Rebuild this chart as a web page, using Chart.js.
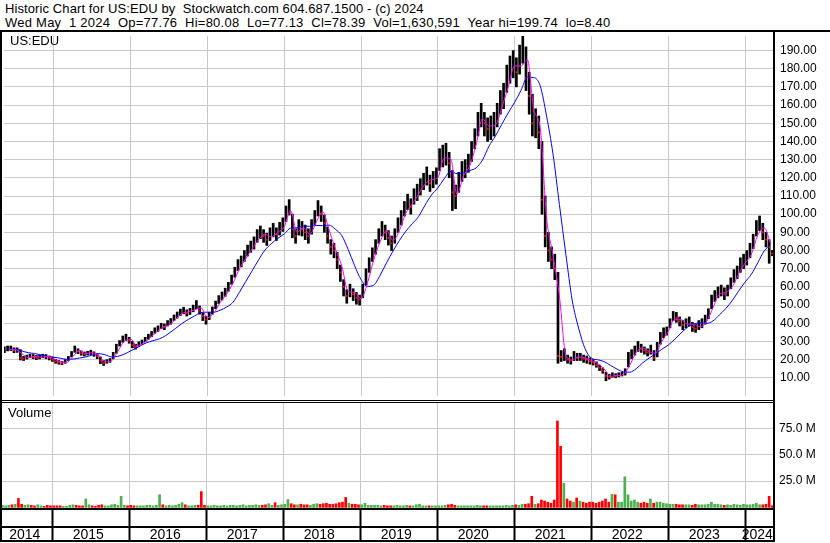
<!DOCTYPE html>
<html><head><meta charset="utf-8">
<script src="https://cdn.jsdelivr.net/npm/chart.js@4.4.1/dist/chart.umd.min.js"></script>
<style>
html,body{margin:0;padding:0;background:#fff;}
body{width:830px;height:543px;position:relative;overflow:hidden;font-family:"Liberation Sans",Arial,sans-serif;}
.t{position:absolute;font-size:13px;white-space:pre;color:#000;line-height:14px;}
.ln{position:absolute;background:#000;}
canvas{position:absolute;left:0;}
</style></head><body>
<canvas id="cp" width="830" height="368" style="top:32px"></canvas>
<canvas id="cv" width="830" height="143" style="top:400px"></canvas>
<div class="t" style="left:5px;top:1.5px;letter-spacing:0.1px">Historic Chart for US:EDU by  Stockwatch.com 604.687.1500 - (c) 2024</div>
<div class="t" style="left:5px;top:15.5px;letter-spacing:0.24px">Wed May  1 2024  Op=77.76  Hi=80.08  Lo=77.13  Cl=78.39  Vol=1,630,591  Year hi=199.74  lo=8.40</div>
<div class="t" style="left:10px;top:34px">US:EDU</div>
<div class="t" style="left:8px;top:406px">Volume</div>
<div class="ln" style="left:0;top:30px;width:830px;height:2px"></div>
<div class="ln" style="left:0;top:30px;width:2px;height:512px"></div>
<div class="ln" style="left:773px;top:30px;width:2px;height:512px"></div>
<div class="ln" style="left:0;top:400px;width:775px;height:1px"></div>
<div class="ln" style="left:0;top:402px;width:775px;height:1px"></div>
<div class="ln" style="left:0;top:508px;width:775px;height:2px"></div>
<div class="ln" style="left:0;top:526px;width:775px;height:2px"></div>
<div class="ln" style="left:0;top:540px;width:775px;height:2px"></div>
<script>
// ---- data (half-month buckets starting early May 2014) ----
const startDate = 2014.354;
const step = 1 / 24;
const closes = [
25.0,26.0,26.0,25.0,25.5,21.0,20.5,21.5,22.0,21.5,21.0,21.5,22.0,21.5,21.0,20.0,
19.0,18.5,18.0,19.0,20.5,23.0,25.5,24.5,23.5,23.0,23.5,24.0,23.0,22.0,19.5,18.0,19.0,19.5,22.0,27.0,29.0,31.0,32.0,30.5,
28.0,27.0,28.5,29.5,31.0,32.5,34.0,36.0,37.0,38.5,38.0,40.0,41.0,43.0,44.5,46.0,47.0,45.5,46.5,48.0,50.0,47.0,44.0,42.0,
44,47,50,53,55,57,60,64,68,72,74,77,80,82,84,88,90,88,86,89,91,89,92,94,
100,104,92,88,93,92,90,88,93,98,103,100,95,88,82,80,75,68,60,55,58,56,54,53,
58,66,72,78,82,88,92,90,87,84,88,94,98,103,107,104,110,112,115,118,121,117,119,121,
130,132,133,128,112,110,118,124,125,128,135,142,150,155,150,147,148,150,155,162,165,175,180,183,
178,185,195,175,165,150,150,145,108,88,80,75,70,22,21.5,23,20,19.5,22,21,21.5,20.5,20,19,
18.5,17,15.5,14,11,10.5,11.5,11,11.5,12,13,21,23,25,27,26,25,24,26,21,27,33,35,36,
40,44,43,41,39,40,41,38,37,39,40,42,45,52,55,57,58,56,58,62,66,68,72,74,
76,80,85,92,95,90,86,82,78.39];
const highs = [
27.0,27.5,27.5,26.5,26.5,25.5,21.8,22.5,23.0,22.8,22.3,22.5,23.0,22.8,22.0,21.5,
20.2,19.5,19.0,20.0,21.8,24.5,27.5,26.0,24.8,24.2,24.6,25.2,24.3,23.3,21.5,19.5,20.0,20.6,24.0,28.5,30.5,33.0,34.0,32.3,
30.0,28.5,29.8,30.8,32.3,34.0,35.5,37.5,38.6,40.0,39.6,41.5,42.6,44.6,46.2,47.8,48.8,47.4,48.2,50.0,52.5,49.5,46.0,43.8,
46.0,49.0,52.2,55.2,57.2,59.3,62.5,66.5,70.8,75.0,77.0,80.0,83.0,85.2,87.5,91.5,93.5,91.5,89.5,92.5,95.0,92.5,95.5,98.0,
104.5,108.0,100.0,92.0,97.0,96.0,94.0,92.0,97.0,102.0,107.5,104.5,99.5,93.0,86.0,84.0,79.0,72.0,64.0,58.5,61.5,59.0,57.0,55.5,
61.5,70.0,76.0,81.5,86.0,92.0,96.0,94.0,91.0,88.0,92.0,98.0,102.0,107.0,111.0,108.5,114.0,116.5,119.5,122.5,126.0,121.5,123.5,125.5,
136,138,139,134,124,116,123,129,130,133,140,147,156,161,156,153,154,156,161,168,172,182,187,190,
186,193,199.74,192,178,166,158,154,140,110,90,82,78,68,25,26,22.5,21.5,24.5,23.5,23.5,22.5,22,21,
20,18.8,17,15.5,13,12,12.8,12.3,12.8,13,15,24,25.5,27.5,30,28.5,27,26,28,25,29.5,35,37.5,38,
42.5,46.5,46,43.5,41.5,42.5,43.5,40.5,39.5,41.5,42.5,44.5,48,55.5,58,60,61,59.5,61,65,69.5,71.5,76,78,
80,84,89,96.5,99,95,90,86,80.08];
const lows = [
23.8,24.8,25.0,23.8,24.0,19.8,19.5,20.3,21.0,20.5,20.0,20.4,21.0,20.5,19.8,19.0,
18.0,17.5,17.2,18.0,19.5,21.5,24.0,23.3,22.4,22.0,22.5,22.8,21.8,20.5,17.8,16.8,18.0,18.5,20.5,23.5,27.5,29.5,30.5,29.0,
26.5,25.8,27.3,28.3,29.8,31.2,32.6,34.5,35.5,37.0,36.5,38.5,39.5,41.5,42.8,44.3,45.2,44.0,44.8,46.3,48.0,45.0,41.5,39.5,
42.0,45.0,48.0,50.8,52.8,54.8,57.6,61.5,65.3,69.0,71.0,74.0,77.0,79.0,80.8,84.5,86.5,84.5,82.8,85.5,87.5,85.5,88.5,90.5,
96.0,99.5,87.0,84.0,88.5,88.0,86.0,84.0,89.0,94.0,99.0,96.0,90.0,84.0,78.0,76.0,70.0,63.0,55.0,51.0,54.5,52.5,50.5,50.0,
54.0,61.0,68.0,74.0,78.0,84.0,88.0,86.0,83.0,80.0,84.0,90.0,94.0,99.0,102.5,100.0,105.5,107.5,110.5,113.5,116.0,112.5,114.5,116.5,
124,126,127,120,102,103,112,118,120,123,129,136,143,148,143,140,141,143,148,155,158,167,172,175,
170,177,183,168,155,143,142,136,100,82,74,70,64,18,19,19.5,18,17.5,19.5,19.5,19.5,18.5,18,17.5,
17,15.8,14,12.5,8.4,9.3,10.3,10,10.5,11,11.5,16,20.5,22.5,24.5,24,23,22,23,19.5,21.5,28.5,32,33.5,
37.5,41.5,40.5,38.5,36.5,37.5,38.5,35.5,35,36.5,37.5,39.5,42.5,48,52,54,55,53,55,59,62.5,64.5,68,70,
72,76,81,88,91,86,82,73,77.13];
const volumes = [
2,1.5,2,2.5,3,8.5,3,2,2.5,2,1.5,2.5,1.5,1,2,1.5,
1.5,1.5,1.5,1,1,2,2.5,2,1.5,1.5,8,2.5,1.5,1,2,2.5,1.5,1.5,2.5,3,2,10.5,2,1.5,
2,1.5,1.5,1.5,1.5,2,2,1.5,2,12,2.5,1.5,2,1.5,2,3,4.5,2.5,1.5,1.5,2,2,15,2,
1.5,1.5,2,1.5,1.5,2,1.5,2,2,1.5,2,2.5,1.5,2,2,2.5,2,2,2.5,3.5,2,4.5,2,2.5,
3,7.5,3.5,2.5,2.5,3,2.5,2.5,2,3,3.5,3,3.5,4,3,3,3.5,4.5,5,9.5,4,3,3,2.5,
2.5,4,2,2,2,2,1.5,2,1.5,1.5,1.5,2,1.5,1.5,2,1.5,1.5,2.5,3,1.5,1.5,1.5,1.5,1.5,
1.5,1.5,2,2.5,3,2,1.5,1.5,1.5,1.5,1.5,1.5,2,1.5,1.5,1.5,1.5,1.5,1.5,1.5,1.5,2,1.5,2,
2.5,2,3,3,3.5,10.5,3,3.5,7,6,5,4,7,82,58,23,8,6,5,9,6,5,4,5,
5,4,5,6,8,5,12.5,12,5,5,29,12,6,7,5,4,5,4,8,4,5,5,4,3.5,
3,3,3,2.5,2.5,2.5,2.5,2,3,2.5,2.5,2.5,3,5,3,3,2.5,2,2.5,2,3,2.5,2,3,
2.5,2.5,3,4,2.5,2.5,3,10.5,1.6];
// moving averages, month-end values
const maStart = 2014.414;
const maStep = 1 / 12;
const maFast = [
25.5,25.5,23.3,21.0,21.8,21.3,21.8,20.5,
18.8,18.5,21.8,25.0,23.3,23.8,22.5,18.8,19.3,24.5,30.0,31.3,
27.5,29.0,31.8,35.0,37.8,39.0,42.0,45.3,46.3,47.3,48.5,43.0,
45.5,51.5,56.0,62.0,70.0,75.5,81.0,86.0,89.0,87.5,90.0,93.0,
102.0,90.0,92.5,89.0,95.5,101.5,91.5,81.0,71.5,57.5,57.0,53.5,
62.0,75.0,85.0,91.0,85.5,91.0,100.5,105.5,111.0,116.5,119.0,120.0,
131.0,130.5,111.0,121.0,126.5,138.5,152.5,148.5,149.0,158.5,170.0,181.5,
181.5,185.0,157.5,147.5,98.0,77.5,55.0,22.5,19.8,21.5,21.0,19.5,
17.8,14.8,10.8,11.3,11.8,17.0,24.0,26.5,24.5,23.5,30.0,35.5,
42.0,42.0,39.5,39.5,38.0,41.0,48.5,56.0,57.0,60.0,67.0,73.0,
78.0,88.5,92.5,84.0];
const maSlow = [
25.8,25.7,24.8,23.8,23.4,22.6,21.8,21.3,
20.8,20.2,20.3,20.9,21.5,22.5,23.3,22.7,21.5,21.8,23.0,24.8,
26.5,28.5,29.9,30.9,32.2,34.5,37.1,39.8,42.1,44.0,45.9,46.1,
46.1,47.2,48.9,51.6,57.0,63.0,68.9,74.9,80.3,83.8,86.7,89.1,
92.3,92.5,93.5,93.3,93.8,93.7,94.0,91.7,88.2,80.6,71.7,64.1,
60.3,61.0,66.5,73.3,79.7,85.5,90.6,94.7,98.7,104.9,110.5,114.4,
119.5,123.4,122.3,122.7,124.0,125.5,129.9,137.4,143.0,149.4,155.7,161.5,
168.1,175.3,175.1,170.6,153.9,133.1,105.3,78.2,52.7,37.4,26.1,20.8,
19.9,18.9,16.8,14.8,13.3,13.1,15.0,18.2,20.8,23.1,25.7,28.0,
31.1,34.6,37.8,39.7,40.2,40.0,41.3,44.6,48.1,52.5,57.7,62.6,
67.0,73.3,79.8,83.2];
const priceTicks = [10,20,30,40,50,60,70,80,90,100,110,120,130,140,150,160,170,180,190];
const volTicks = [25,50,75];
const years = [2014,2015,2016,2017,2018,2019,2020,2021,2022,2023,2024];
const xMin = 2014.349, xMax = 2024.375;

// ---- build datasets ----
const xs = closes.map((_, i) => startDate + i * step);
const rangeData = closes.map((_, i) => ({x: xs[i], y: [lows[i], highs[i]]}));
const downData = [];
closes.forEach((c, i) => { if (i > 0 && c < closes[i - 1]) downData.push({x: xs[i], y: c}); });
const fastData = maFast.map((v, i) => ({x: maStart + i * maStep, y: v}));
const slowData = maSlow.map((v, i) => ({x: maStart + i * maStep, y: v}));
const volData = volumes.map((v, i) => ({x: xs[i], y: v}));
const volColors = closes.map((c, i) => (i > 0 && c < closes[i - 1]) ? '#ff0000' : '#4cb04c');
const yearBounds = years.slice(1);
const labelPos = years.map(y => (Math.max(y, xMin) + Math.min(y + 1, xMax)) / 2 - 0.03);

const GRID = '#c8c8c8';
const baseFont = {family: "'Liberation Sans', Arial, sans-serif", size: 12};
const noPad = s => { s.paddingTop = 0; s.paddingBottom = 0; s.paddingLeft = 0; s.paddingRight = 0; };

new Chart(document.getElementById('cp'), {
  type: 'bar',
  data: {datasets: [
    {type: 'line', data: fastData, borderColor: '#ff00ff', borderWidth: 1, pointRadius: 0, cubicInterpolationMode: 'monotone', order: 0},
    {type: 'line', data: slowData, borderColor: '#0000ff', borderWidth: 1, pointRadius: 0, cubicInterpolationMode: 'monotone', order: 0},
    {type: 'line', data: downData, showLine: false, pointStyle: 'rect', pointRadius: 1.3, pointBackgroundColor: '#ff0000', pointBorderWidth: 0, order: 1},
    {type: 'bar', data: rangeData, backgroundColor: '#000', barThickness: 2, order: 2}
  ]},
  options: {
    responsive: false, animation: false, devicePixelRatio: 1,
    layout: {padding: {left: 2, right: 0, top: 0, bottom: 0}},
    plugins: {legend: {display: false}, tooltip: {enabled: false}},
    scales: {
      x: {type: 'linear', min: xMin, max: xMax, offset: false,
          afterBuildTicks: s => { s.ticks = yearBounds.map(v => ({value: v})); },
          afterFit: s => { s.height = 0; noPad(s); },
          grid: {color: GRID, offset: false, drawTicks: false}, border: {display: false}, ticks: {display: false}},
      y: {position: 'right', min: 0, max: 198,
          afterBuildTicks: s => { s.ticks = priceTicks.map(v => ({value: v})); },
          afterFit: s => { s.width = 56; noPad(s); },
          grid: {color: GRID, drawTicks: false}, border: {display: true, color: '#000', width: 2},
          ticks: {padding: 6, color: '#000', font: baseFont, callback: v => Number(v).toFixed(2)}}
    }
  }
});

new Chart(document.getElementById('cv'), {
  type: 'bar',
  data: {datasets: [{data: volData, backgroundColor: volColors, barThickness: 2}]},
  options: {
    responsive: false, animation: false, devicePixelRatio: 1,
    layout: {padding: {left: 2, right: 0, top: 2, bottom: 0}},
    plugins: {legend: {display: false}, tooltip: {enabled: false}},
    scales: {
      x: {type: 'linear', min: xMin, max: xMax, offset: false, weight: 0,
          afterBuildTicks: s => { s.ticks = yearBounds.map(v => ({value: v})); },
          afterFit: s => { s.height = 17; noPad(s); },
          grid: {color: GRID, offset: false, drawTicks: true, tickLength: 32, tickColor: '#000', tickWidth: 2},
          border: {display: false}, ticks: {display: false}},
      xl: {type: 'linear', axis: 'x', position: 'bottom', min: xMin, max: xMax, offset: false, weight: 1,
          afterBuildTicks: s => { s.ticks = labelPos.map(v => ({value: v})); },
          afterFit: s => { s.height = 17; noPad(s); },
          grid: {display: false, drawTicks: false}, border: {display: false},
          ticks: {padding: 1, autoSkip: false, maxRotation: 0, color: '#000',
                  font: {family: "'Liberation Sans Narrow', 'Arial Narrow', 'Liberation Sans', sans-serif", size: 14},
                  callback: (v, i) => String(years[i])}},
      y: {position: 'right', min: -1.5, max: 100,
          afterBuildTicks: s => { s.ticks = volTicks.map(v => ({value: v})); },
          afterFit: s => { s.width = 56; noPad(s); },
          grid: {color: GRID, drawTicks: false}, border: {display: true, color: '#000', width: 2},
          ticks: {padding: 5, color: '#000', font: baseFont, callback: v => Number(v).toFixed(1) + ' M'}}
    }
  }
});
</script>
</body></html>
